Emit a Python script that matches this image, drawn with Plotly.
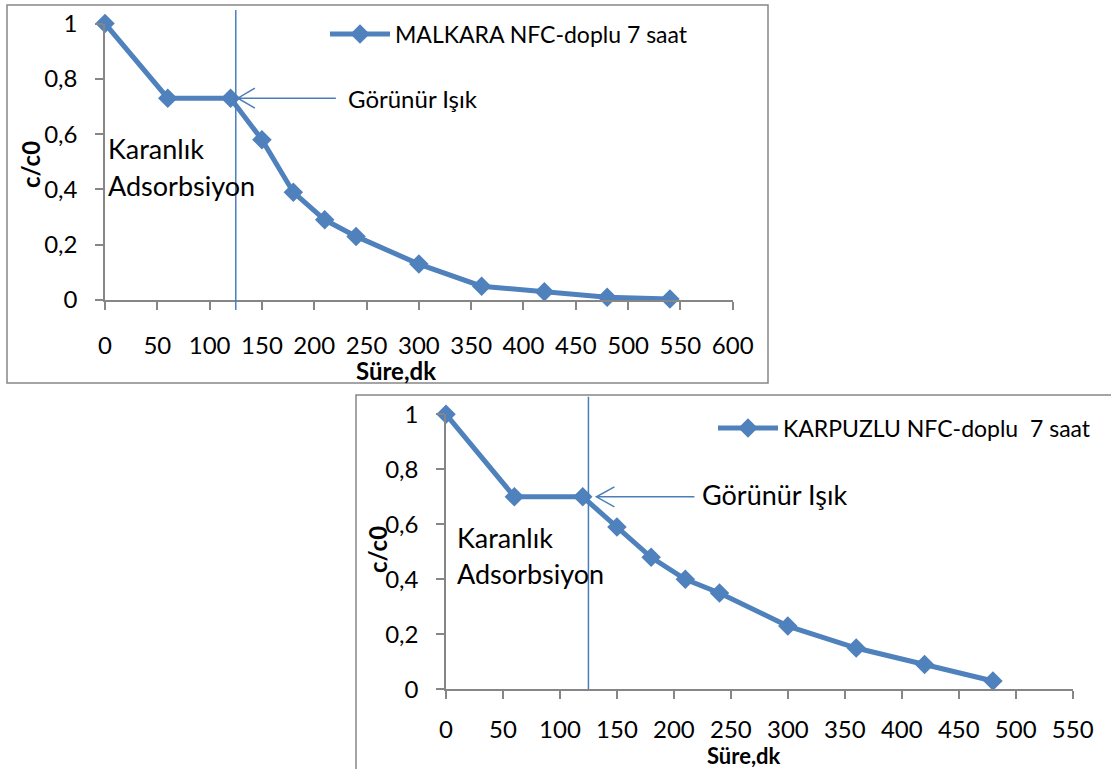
import plotly.graph_objects as go

# ---- data -------------------------------------------------------------
malkara_time = [0, 60, 120, 150, 180, 210, 240, 300, 360, 420, 480, 540]
malkara_ratio = [1.0, 0.73, 0.73, 0.58, 0.39, 0.29, 0.23, 0.13, 0.05, 0.03, 0.01, 0.004]

karpuzlu_time = [0, 60, 120, 150, 180, 210, 240, 300, 360, 420, 480]
karpuzlu_ratio = [1.0, 0.70, 0.70, 0.59, 0.48, 0.40, 0.35, 0.23, 0.15, 0.09, 0.03]

malkara_name = "MALKARA NFC-doplu 7 saat"
karpuzlu_name = "KARPUZLU NFC-doplu  7 saat"

y_tickvals = [0, 0.2, 0.4, 0.6, 0.8, 1.0]
y_ticktext = ["0", "0,2", "0,4", "0,6", "0,8", "1"]
x_ticks_top = [0, 50, 100, 150, 200, 250, 300, 350, 400, 450, 500, 550, 600]
x_ticks_bottom = [0, 50, 100, 150, 200, 250, 300, 350, 400, 450, 500, 550]

light_on = 125  # minute when visible light is switched on

# ---- layout helpers ---------------------------------------------------
W, H = 1111, 769
BLUE = "#4F81BD"
SHAPE_BLUE = "#4A7EBB"
GREY = "#868686"
FONT = "Lato"


def px(p):
    return p / W


def py(p):
    return 1 - p / H


fig = go.Figure()

fig.add_trace(go.Scatter(
    x=malkara_time, y=malkara_ratio, name=malkara_name,
    mode="lines+markers", xaxis="x", yaxis="y", legend="legend",
    line=dict(color=BLUE, width=5),
    marker=dict(symbol="diamond", size=15, color=BLUE),
    cliponaxis=False, showlegend=True,
))
fig.add_trace(go.Scatter(
    x=karpuzlu_time, y=karpuzlu_ratio, name=karpuzlu_name,
    mode="lines+markers", xaxis="x2", yaxis="y2", legend="legend2",
    line=dict(color=BLUE, width=5),
    marker=dict(symbol="diamond", size=15, color=BLUE),
    cliponaxis=False, showlegend=True,
))

axis_common = dict(
    showgrid=False, zeroline=False, showline=True, automargin=False,
    linecolor=GREY, linewidth=1.5,
    ticks="outside", tickcolor=GREY, tickwidth=1.5,
    tickfont=dict(family=FONT, size=24, color="black"),
    fixedrange=True,
)

legend_common = dict(xanchor="left", yanchor="middle", bgcolor="rgba(0,0,0,0)",
                     itemwidth=60,
                     font=dict(family=FONT, size=23, color="black"))

fig.update_layout(
    template="none",
    width=W, height=H,
    margin=dict(l=0, r=0, t=0, b=0, autoexpand=False),
    paper_bgcolor="white", plot_bgcolor="white",
    font=dict(family=FONT, color="black"),
    showlegend=True,
    xaxis=dict(domain=[px(105), px(732.7)], range=[0, 600], anchor="y",
               tickvals=x_ticks_top, ticklen=8, ticklabelstandoff=15, **axis_common),
    yaxis=dict(domain=[py(300), py(23.5)], range=[0, 1], anchor="x",
               tickvals=y_tickvals, ticktext=y_ticktext, ticklen=8,
               ticklabelstandoff=13, **axis_common),
    xaxis2=dict(domain=[px(446), px(1072.7)], range=[0, 550], anchor="y2",
                tickvals=x_ticks_bottom, ticklen=8, ticklabelstandoff=10, **axis_common),
    yaxis2=dict(domain=[py(689.3), py(414.3)], range=[0, 1], anchor="x2",
                tickvals=y_tickvals, ticktext=y_ticktext, ticklen=8,
                ticklabelstandoff=13, **axis_common),
    legend=dict(x=px(325), y=py(34), **legend_common),
    legend2=dict(x=px(713), y=py(428), **legend_common),
)

shapes = [
    # chart frames
    dict(type="rect", xref="paper", yref="paper", x0=px(7), x1=px(768), y0=py(383), y1=py(5),
         line=dict(color=GREY, width=1.5), layer="below"),
    dict(type="rect", xref="paper", yref="paper", x0=px(356), x1=1.01, y0=-0.01, y1=py(395),
         line=dict(color=GREY, width=1.5), layer="below"),
    # light-on markers
    dict(type="line", xref="x", yref="y domain", x0=light_on, x1=light_on, y0=-0.036, y1=1.049,
         line=dict(color=SHAPE_BLUE, width=1.5)),
    dict(type="line", xref="x2", yref="y2 domain", x0=light_on, x1=light_on, y0=0.0, y1=1.064,
         line=dict(color=SHAPE_BLUE, width=1.5)),
    # open arrows pointing at the light-on point
    dict(type="path", xref="x", yref="y", xsizemode="pixel", ysizemode="pixel",
         xanchor=light_on + 2, yanchor=malkara_ratio[2],
         path="M0,0 L98,0 M17,10 L0,0 L17,-10",
         line=dict(color=SHAPE_BLUE, width=1.5)),
    dict(type="path", xref="x2", yref="y2", xsizemode="pixel", ysizemode="pixel",
         xanchor=light_on + 7, yanchor=karpuzlu_ratio[2],
         path="M0,0 L98,0 M18,10 L0,0 L18,-10",
         line=dict(color=SHAPE_BLUE, width=1.5)),
]
fig.update_layout(shapes=shapes)

ann_font = dict(family=FONT, size=27, color="black")
title_font = dict(family=FONT, size=24, color="black", weight="bold")
bottom_title_font = dict(family=FONT, size=22, color="black", weight="bold")
annotations = [
    dict(text="Görünür Işık", x=px(346), y=py(98), font=dict(family=FONT, size=24, color="black")),
    dict(text="Karanlık", x=px(106), y=py(148), font=ann_font),
    dict(text="Adsorbsiyon", x=px(106), y=py(185), font=ann_font),
    dict(text="Görünür Işık", x=px(700), y=py(495), font=dict(family=FONT, size=27, color="black")),
    dict(text="Karanlık", x=px(455), y=py(537), font=ann_font),
    dict(text="Adsorbsiyon", x=px(455), y=py(573), font=ann_font),
    # axis titles
    dict(text="c/c0", x=px(30), y=py(165), textangle=-90, xanchor="center", font=title_font),
    dict(text="c/c0", x=px(377), y=py(550), textangle=-90, xanchor="center", font=title_font),
    dict(text="Süre,dk", x=px(396), y=py(370), xanchor="center", font=title_font),
    dict(text="Süre,dk", x=px(744), y=py(755), xanchor="center", font=bottom_title_font),
]
for a in annotations:
    a.setdefault("xanchor", "left")
    a.update(xref="paper", yref="paper", yanchor="middle", showarrow=False)
fig.update_layout(annotations=annotations)

fig.write_html("out.html")
